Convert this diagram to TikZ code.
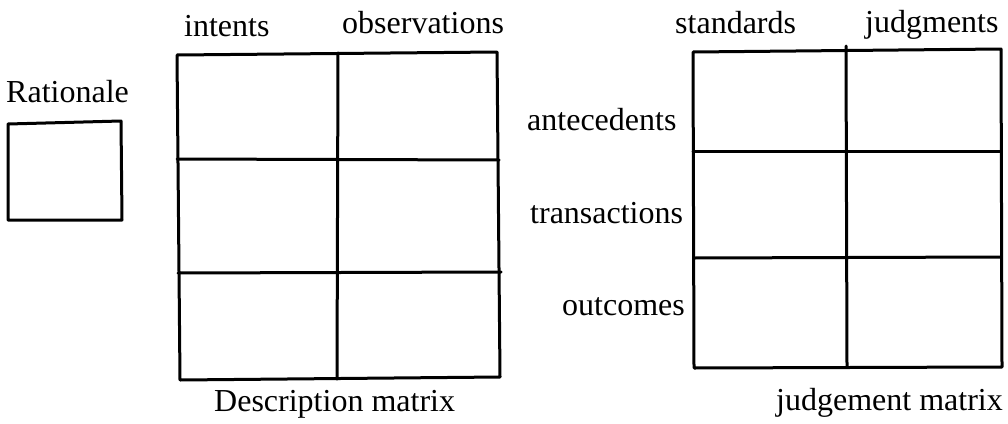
\documentclass[tikz,border=0pt]{standalone}
\usepackage{fontspec}
\setmainfont{Liberation Serif}
\begin{document}
\begin{tikzpicture}[x=1pt,y=-1pt,
  lbl/.style={anchor=base west,inner sep=0pt,font=\fontsize{32}{32}\selectfont},
  rule/.style={line width=3pt,line cap=round,line join=round}]
\useasboundingbox (0,0) rectangle (1008,423);
% Rationale
\node[lbl] (rat) at (6,102) {Rationale};
\coordinate (r1) at (8,124);
\coordinate (r2) at (121,121);
\coordinate (r3) at (122,220);
\coordinate (r4) at (8,220);
\draw[rule] (r1) -- (r2) -- (r3) -- (r4) -- cycle;
% Description matrix
\node[lbl] (int) at (184,36) {intents};
\node[lbl] (obs) at (342,33) {observations};
\node[lbl] (desc) at (214,411) {Description matrix};
\coordinate (d1) at (177,55);
\coordinate (d2) at (497,52);
\coordinate (d3) at (500,377);
\coordinate (d4) at (180,380);
\draw[rule] (d1) -- (d2) -- (d3) -- (d4) -- cycle;
\coordinate (dv1) at (338,53);
\coordinate (dv2) at (337,379);
\draw[rule] (dv1) -- (dv2);
\coordinate (dh1a) at (177,159);
\coordinate (dh1b) at (499,160);
\draw[rule] (dh1a) -- (dh1b);
\coordinate (dh2a) at (178,273);
\coordinate (dh2b) at (501,272);
\draw[rule] (dh2a) -- (dh2b);
% Judgement matrix
\node[lbl] (std) at (675,33) {standards};
\node[lbl] (jdg) at (865,32) {judgments};
\node[lbl] (ant) at (527,130) {antecedents};
\node[lbl] (tra) at (530,223) {transactions};
\node[lbl] (out) at (562,315) {outcomes};
\node[lbl] (jm) at (776,410) {judgement matrix};
\coordinate (j1) at (693,52);
\coordinate (j2) at (1001,49);
\coordinate (j3) at (1002,367);
\coordinate (j4) at (694,368);
\draw[rule] (j1) -- (j2) -- (j3) -- (j4) -- cycle;
\coordinate (jv1) at (846,46);
\coordinate (jv2) at (847,367);
\draw[rule] (jv1) -- (jv2);
\coordinate (jh1a) at (693,151);
\coordinate (jh1b) at (1001,151);
\draw[rule] (jh1a) -- (jh1b);
\coordinate (jh2a) at (694,258);
\coordinate (jh2b) at (1001,257);
\draw[rule] (jh2a) -- (jh2b);
\end{tikzpicture}
\end{document}
